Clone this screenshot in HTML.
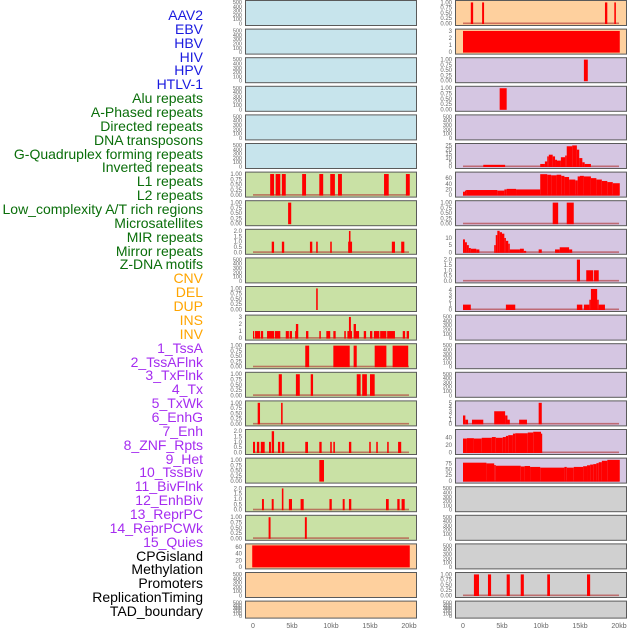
<!DOCTYPE html>
<html><head><meta charset="utf-8">
<style>
html,body{margin:0;padding:0;background:#fff;width:630px;height:630px;overflow:hidden}
#labels{position:absolute;left:0;top:0;width:203px;height:630px}
.lab{position:absolute;right:0;font-family:"Liberation Sans",sans-serif;font-size:14px;line-height:14px;white-space:nowrap}
svg{position:absolute;left:0;top:0}
</style></head>
<body>
<div id="labels"></div>
<svg id="chart" width="630" height="630"></svg>
<script>
const trackNames = ["AAV2","EBV","HBV","HIV","HPV","HTLV-1","Alu repeats","A-Phased repeats","Directed repeats","DNA transposons","G-Quadruplex forming repeats","Inverted repeats","L1 repeats","L2 repeats","Low_complexity A/T rich regions","Microsatellites","MIR repeats","Mirror repeats","Z-DNA motifs","CNV","DEL","DUP","INS","INV","1_TssA","2_TssAFlnk","3_TxFlnk","4_Tx","5_TxWk","6_EnhG","7_Enh","8_ZNF_Rpts","9_Het","10_TssBiv","11_BivFlnk","12_EnhBiv","13_ReprPC","14_ReprPCWk","15_Quies","CPGisland","Methylation","Promoters","ReplicationTiming","TAD_boundary"];
const trackGroups = ["v","v","v","v","v","v","r","r","r","r","r","r","r","r","r","r","r","r","r","c","c","c","c","c","h","h","h","h","h","h","h","h","h","h","h","h","h","h","h","o","o","o","o","o"];
const xTicks = [0,5,10,15,20];
const xTickLabels = ["0","5kb","10kb","15kb","20kb"];

// bars: [startKb, endKb, value]
const leftL1 = [[2.2,2.7,1],[2.9,3.5,1],[3.7,4.2,1],[6.3,6.8,1],[8.5,9.0,1],[9.9,10.5,1],[10.9,11.4,1],[16.8,17.4,1],[19.6,20.1,1]];
const leftL2 = [[4.5,4.9,1]];
const leftLowComp = [[2.4,2.7,1],[3.7,4.0,1],[7.3,7.6,1],[8.1,8.3,1],[9.9,10.1,1],[12.2,12.7,1],[12.3,12.5,2],[17.8,18.2,1],[19.0,19.4,1]];
const leftMIR = [[8.1,8.3,1]];
const leftMirror = [[0,0.15,1],[0.26,0.9,1],[1.0,1.3,1],[1.8,2.7,1],[2.8,3.5,1],[4.2,4.6,1],[4.7,5.0,1],[5.4,5.6,1],[5.5,5.8,2],[6.8,7.1,1],[8.5,8.7,1],[9.4,9.9,1],[10.3,10.6,1],[11.7,11.9,1],[12.1,12.7,1],[12.3,12.55,3],[12.9,13.2,2],[13.1,13.6,1],[14.2,14.5,1],[15.0,15.3,1],[15.5,16.2,1],[16.3,17.1,1],[17.2,18.2,1],[19.2,19.5,1],[19.7,20.0,1]];
const leftTssA = [[6.7,7.2,1],[10.3,12.4,1],[12.9,13.3,1],[15.6,17.1,1],[17.9,19.9,1]];
const leftTssAFlnk = [[3.3,3.7,1],[5.5,6.0,1],[7.4,7.7,1],[13.3,13.8,1],[14.0,14.6,1],[15.0,15.6,1]];
const leftTxFlnk = [[0.6,0.9,1],[3.6,3.8,1]];
const leftTx = [[0,0.26,1],[0.5,0.8,1],[1.0,1.5,1],[2.05,2.3,1],[2.4,2.7,2],[3.2,3.5,1],[3.7,4.0,1],[6.7,7.05,1],[8.5,8.8,1],[9.9,10.1,1],[10.3,10.5,1],[12.3,12.6,1],[14.9,15.1,1],[15.8,16.0,1],[17.2,17.4,1],[18.6,19.0,1]];
const leftTxWk = [[8.5,9.1,1]];
const leftEnhG = [[1.15,1.4,1],[2.4,2.65,1],[3.7,3.9,2],[4.6,5.0,1],[6.1,6.5,1],[9.8,10.1,1],[11.5,11.75,1],[12.3,12.6,1],[17.05,17.4,1],[18.5,18.8,1],[19.05,19.45,1]];
const leftEnh = [[2.0,2.25,1],[6.65,6.9,1]];
const leftCpg = [[-0.1,20.1,65]];
const rightA = [[1.0,1.3,1],[2.45,2.7,1],[18.2,18.5,1],[19.4,19.6,1]];
const rightB = [[0,20.1,3]];
const rightC = [[15.5,16.0,1]];
const rightD = [[4.7,5.6,1]];
const rightQuad = [[2.6,5.4,2],[9.9,10.5,3],[10.5,10.8,6],[10.8,11.0,12],[11.0,11.5,14],[11.5,11.8,12],[11.8,12.05,8],[12.05,12.55,7],[12.55,13.1,11],[13.1,13.3,13],[13.3,14.0,24],[14.0,14.6,25],[14.6,14.9,20],[14.9,15.3,10],[15.3,15.6,5],[15.6,16.4,3]];
const rightL1 = [[0,0.25,12],[0.25,0.4,16],[0.4,4.4,18],[4.4,5.3,16],[5.3,5.6,20],[5.6,6.8,22],[6.8,9.9,20],[9.9,10.8,74],[10.8,11.3,72],[11.3,12.0,70],[12.0,12.6,72],[12.6,13.0,68],[13.0,13.6,64],[13.6,14.4,55],[14.4,14.7,52],[14.7,15.0,66],[15.0,15.5,68],[15.5,16.4,66],[16.4,17.1,60],[17.1,17.8,55],[17.8,18.5,50],[18.5,19.2,46],[19.2,20.1,42]];
const rightL2 = [[11.5,12.2,1],[13.3,14.2,1]];
const rightLow = [[0,0.25,9],[0.25,0.5,7],[0.5,0.75,5],[0.75,1.0,3],[1.0,1.7,2.5],[1.7,2.1,2],[4.0,4.2,5],[4.2,4.4,12],[4.4,4.7,15],[4.7,5.0,14],[5.0,5.3,13],[5.3,5.5,10],[5.5,5.8,8],[5.8,6.0,6],[6.0,7.3,2],[7.3,7.8,2.5],[7.8,8.1,1],[9.7,10.1,2],[11.8,12.4,2],[12.4,13.6,3.5],[13.6,14.0,2]];
const rightMicro = [[14.6,15.0,2],[15.8,16.7,1],[16.8,17.4,1]];
const rightMIR = [[0,1.0,1],[5.5,6.7,1],[14.6,15.3,1],[15.5,16.2,1],[16.2,16.4,2],[16.4,17.2,4.2],[17.2,17.4,2],[17.4,18.2,1]];
const rightTxWk = [[0,0.3,2],[0.3,0.65,1],[1.15,2.6,1],[4.0,5.4,3],[5.4,5.7,2],[5.7,6.0,1],[7.2,8.2,1],[9.7,10.1,5]];
const rightEnh = [[0,0.5,37],[0.5,1.4,38],[1.4,2.4,37],[2.4,3.7,39],[3.7,4.2,41],[4.2,5.1,39],[5.1,5.5,41],[5.5,5.8,44],[5.8,6.4,46],[6.4,6.7,50],[6.7,8.3,51],[8.3,9.0,53],[9.0,10.0,55],[10.0,10.1,50]];
const rightZnf = [[0,3.0,78],[3.0,4.0,75],[4.0,4.2,68],[4.2,7.4,65],[7.4,7.9,62],[7.9,8.6,64],[8.6,9.9,60],[9.9,13.0,57],[13.0,13.3,60],[13.3,14.2,57],[14.2,15.4,60],[15.4,15.9,63],[15.9,16.3,67],[16.3,16.7,70],[16.7,17.1,72],[17.1,17.4,76],[17.4,17.8,80],[17.8,18.5,86],[18.5,20.1,90]];
const rightPromo = [[1.4,2.05,1],[3.2,3.6,1],[5.6,6.0,1],[7.4,7.8,1],[10.8,11.15,1],[15.9,16.3,1]];

const T500=[0,100,200,300,400,500], T1=[0,0.25,0.5,0.75,1], T3=[0,1,2,3], T2=[0,0.5,1,1.5,2];
const BL="#c7e4ec",GR="#c9e1a5",OR="#fed09e",PU="#d5c6e2",GY="#d0d0d0";
// [col,row,bg,ymax,ticks,decimals,bars,name]
const panels = [
 [0,0,BL,500,T500,0,null,"aav2"],[0,1,BL,500,T500,0,null,"ebv"],[0,2,BL,500,T500,0,null,"hbv"],[0,3,BL,500,T500,0,null,"hiv"],[0,4,BL,500,T500,0,null,"hpv"],[0,5,BL,500,T500,0,null,"htlv"],
 [0,6,GR,1.02,T1,2,leftL1,"l1"],[0,7,GR,1.02,T1,2,leftL2,"l2"],[0,8,GR,2.02,T2,1,leftLowComp,"low-complexity"],[0,9,GR,500,T500,0,null,"microsatellites"],[0,10,GR,1.02,T1,2,leftMIR,"mir"],[0,11,GR,3.05,T3,0,leftMirror,"mirror"],
 [0,12,GR,1.02,T1,2,leftTssA,"tssa"],[0,13,GR,1.02,T1,2,leftTssAFlnk,"tssaflnk"],[0,14,GR,1.02,T1,2,leftTxFlnk,"txflnk"],[0,15,GR,2.02,T2,1,leftTx,"tx"],[0,16,GR,1.02,T1,2,leftTxWk,"txwk"],[0,17,GR,2.02,T2,1,leftEnhG,"enhg"],[0,18,GR,1.02,T1,2,leftEnh,"enh"],
 [0,19,OR,65,[0,20,40,60],0,leftCpg,"cpg"],[0,20,OR,500,T500,0,null,"methylation"],[0,21,OR,500,T500,0,null,"tad-left"],
 [1,0,OR,1.02,T1,2,rightA,"cnv"],[1,1,OR,3.05,T3,0,rightB,"del"],[1,2,PU,1.02,T1,2,rightC,"dup"],[1,3,PU,1.02,T1,2,rightD,"ins"],[1,4,PU,500,T500,0,null,"inv"],[1,5,PU,25.5,[0,5,10,15,20,25],0,rightQuad,"quad"],
 [1,6,PU,76,[0,20,40,60],0,rightL1,"l1-right"],[1,7,PU,1.02,T1,2,rightL2,"l2-right"],[1,8,PU,15,[0,5,10],0,rightLow,"low-right"],[1,9,PU,2.02,T2,1,rightMicro,"micro-right"],[1,10,PU,4.4,[0,1,2,3,4],0,rightMIR,"mir-right"],
 [1,11,PU,500,T500,0,null,"empty-a"],[1,12,PU,500,T500,0,null,"empty-b"],[1,13,PU,500,T500,0,null,"empty-c"],[1,14,PU,5.1,[0,1,2,3,4,5],0,rightTxWk,"txwk-right"],[1,15,PU,57,[0,20,40],0,rightEnh,"enh-right"],[1,16,PU,91,[0,25,50,75],0,rightZnf,"znf-right"],
 [1,17,GY,500,T500,0,null,"gray-a"],[1,18,GY,500,T500,0,null,"gray-b"],[1,19,GY,500,T500,0,null,"gray-c"],[1,20,GY,1.02,T1,2,rightPromo,"promoters-right"],[1,21,GY,500,T500,0,null,"gray-d"]
];

const colors={v:"#1a1adf",r:"#0a6e0a",c:"#ffa500",h:"#a52cf0",o:"#000"};
const labDiv=document.getElementById('labels');
trackNames.forEach((n,i)=>{
  const d=document.createElement('div');
  d.className='lab';
  
  
  d.style.top=(8+i*13.86)+'px';
  d.style.color=colors[trackGroups[i]];
  d.textContent=n;
  labDiv.appendChild(d);
});

const NS="http://www.w3.org/2000/svg";
const svg=document.getElementById('chart');
function mk(tag,attrs){const e=document.createElementNS(NS,tag);for(const k in attrs)e.setAttribute(k,attrs[k]);return e;}
const colX=[245.5,455.5], PW=171, PITCH=28.6;
function xs(col,kb){return colX[col]+7.5+kb*7.8;}
panels.forEach(p=>{
  const [col,row,bg,ymax,ticks,dec,bars,name]=p;
  const top=0.5+row*PITCH, h=row===21?17:25;
  const base=top+h-2, ph=h-3.5;
  const ys=v=>base-v/ymax*ph;
  const g=mk('g',{});
  
  
  const r=mk('rect',{x:colX[col],y:top,width:PW,height:h,fill:bg,stroke:"#5a5a5a","stroke-width":1});
  
  
  g.appendChild(r);
  if(bars){
    if(!(bars.length===1&&bars[0][2]>=ymax*0.9)){
      const bl=mk('rect',{x:xs(col,0),y:base-1,width:xs(col,20)-xs(col,0),height:1.6,fill:"rgba(175,45,45,0.6)"});
      
      
      g.appendChild(bl);
    }
    bars.forEach(b=>{
      const x1=xs(col,b[0]),x2=xs(col,b[1]);
      const br=mk('rect',{x:x1,y:ys(b[2]),width:Math.max(1.2,x2-x1),height:base-ys(b[2])+0.5,fill:"#ff0000"});
      
      
      g.appendChild(br);
    });
  }
  ticks.forEach(t=>{
    const tx=mk('text',{x:colX[col]-3.5,y:ys(t)+2,"text-anchor":"end","font-family":"Liberation Sans, sans-serif","font-size":(ticks===T500?5.5:6),fill:"#666"});
    
    
    tx.textContent=dec?t.toFixed(dec):String(t);
    g.appendChild(tx);
  });
  svg.appendChild(g);
});
[0,1].forEach(col=>{
  xTicks.forEach((t,i)=>{
    const tx=mk('text',{x:xs(col,t),y:628,"text-anchor":"middle","font-family":"Liberation Sans, sans-serif","font-size":7,fill:"#666"});
    
    
    tx.textContent=xTickLabels[i];
    svg.appendChild(tx);
  });
});
</script>
</body></html>
